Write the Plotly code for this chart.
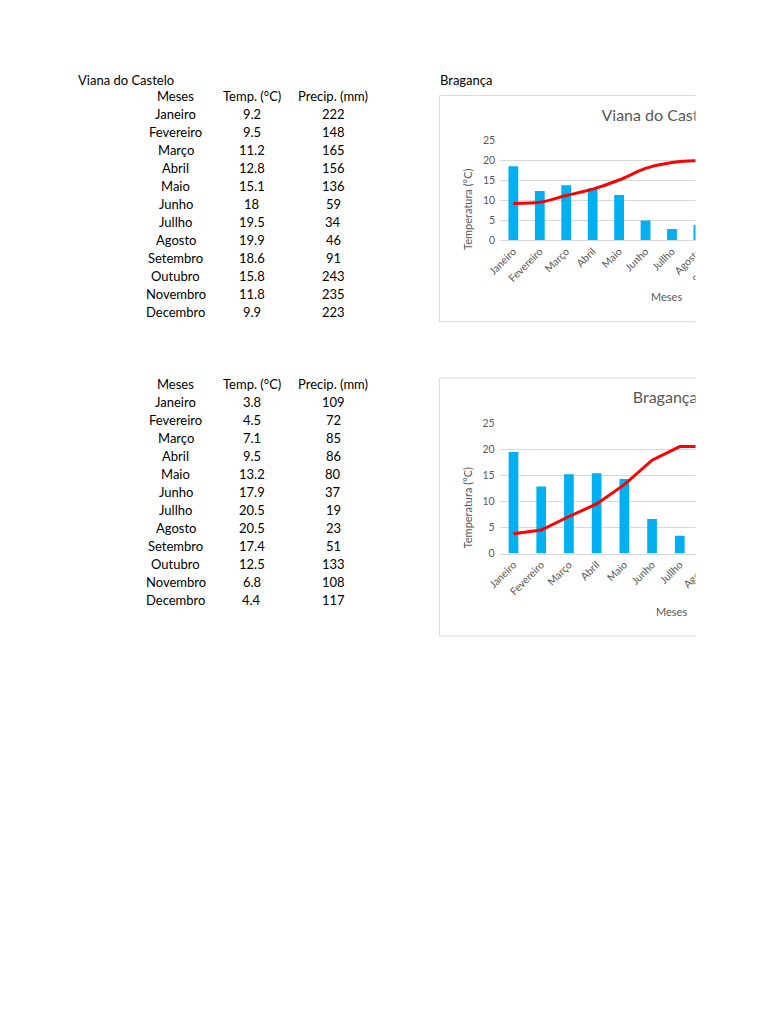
import plotly.graph_objects as go

# ---------------- data ----------------
months = ["Janeiro", "Fevereiro", "Março", "Abril", "Maio", "Junho",
          "Jullho", "Agosto", "Setembro", "Outubro", "Novembro", "Decembro"]
header = ["Meses", "Temp. (°C)", "Precip. (mm)"]

viana_name = "Viana do Castelo"
viana_temp = [9.2, 9.5, 11.2, 12.8, 15.1, 18, 19.5, 19.9, 18.6, 15.8, 11.8, 9.9]
viana_prec = [222, 148, 165, 156, 136, 59, 34, 46, 91, 243, 235, 223]

braganca_name = "Bragança"
braganca_temp = [3.8, 4.5, 7.1, 9.5, 13.2, 17.9, 20.5, 20.5, 17.4, 12.5, 6.8, 4.4]
braganca_prec = [109, 72, 85, 86, 80, 37, 19, 23, 51, 133, 108, 117]

temp_ticks = [0, 5, 10, 15, 20, 25]
y_title = "Temperatura (°C)"
x_title = "Meses"

# ---------------- helpers (page pixels -> paper) ----------------
W, H = 768, 1024
def px(x):
    return x / W
def py(y):
    return 1 - y / H

FONT = "Lato"
GRAY = "#595959"
GRID = "#D9D9D9"
BLUE = "#00B0F0"
RED = "#FF0000"

fig = go.Figure()

# chart 1 : Viana do Castelo
fig.add_trace(go.Bar(x=months, y=viana_prec, xaxis="x", yaxis="y",
                     marker=dict(color=BLUE, line=dict(width=0)), width=0.37,
                     showlegend=False, hoverinfo="skip"))
fig.add_trace(go.Scatter(x=months, y=viana_temp, xaxis="x", yaxis="y2",
                         mode="lines", line=dict(color=RED, width=3, shape="spline", smoothing=0.8),
                         showlegend=False, hoverinfo="skip"))

# chart 2 : Bragança
fig.add_trace(go.Bar(x=months, y=braganca_prec, xaxis="x2", yaxis="y3",
                     marker=dict(color=BLUE, line=dict(width=0)), width=0.35,
                     showlegend=False, hoverinfo="skip"))
fig.add_trace(go.Scatter(x=months, y=braganca_temp, xaxis="x2", yaxis="y4",
                         mode="lines", line=dict(color=RED, width=3),
                         showlegend=False, hoverinfo="skip"))

# chart titles (text in a page-pixel subplot so the page edge mask clips them)
fig.add_trace(go.Scatter(x=[601, 633], y=[112, 398], mode="text",
                         text=[viana_name, braganca_name], textposition="middle right",
                         textfont=dict(family=FONT, size=16, color=GRAY),
                         xaxis="x3", yaxis="y5", cliponaxis=False,
                         showlegend=False, hoverinfo="skip"))

tickfont = dict(family=FONT, size=10.5, color=GRAY)

# chart geometry (page pixels)
c1_left, c1_step, c1_y0, c1_y25 = 497.5, 27.0, 237, 136
c2_left, c2_step, c2_y0, c2_y25 = 497.0, 28.3, 554, 422

def xax(left, step, anchor):
    return dict(domain=[px(left), 1], range=[-0.5, -0.5 + (W - left) / step],
                type="category", anchor=anchor, tickangle=-45, tickfont=tickfont,
                showgrid=False, showline=True, linecolor=GRID, linewidth=1,
                ticks="", zeroline=False, fixedrange=True)

def yax_temp(y0, y25, overlay, anchor):
    return dict(domain=[py(y0), py(y25)], range=[0, 25.02], overlaying=overlay, anchor=anchor,
                side="left", tickvals=temp_ticks, tickfont=tickfont, showgrid=True,
                gridcolor=GRID, gridwidth=1, zeroline=False, showline=False, ticks="",
                ticklabelstandoff=4)

def yax_prec(y0, y25, top, anchor):
    return dict(domain=[py(y0), py(y25)], range=[0, top], anchor=anchor,
                visible=False, showgrid=False, zeroline=False)

fig.update_layout(
    width=W, height=H, autosize=False,
    margin=dict(l=0, r=0, t=0, b=0, pad=0),
    paper_bgcolor="white", plot_bgcolor="rgba(0,0,0,0)",
    font=dict(family=FONT, color="black"),
    xaxis=xax(c1_left, c1_step, "y"),
    yaxis=yax_prec(c1_y0, c1_y25, 300, "x"),
    yaxis2=yax_temp(c1_y0, c1_y25, "y", "x"),
    xaxis2=xax(c2_left, c2_step, "y3"),
    yaxis3=yax_prec(c2_y0, c2_y25, 140, "x2"),
    yaxis4=yax_temp(c2_y0, c2_y25, "y3", "x2"),
    xaxis3=dict(domain=[0, 1], range=[0, W], visible=False, anchor="y5", fixedrange=True),
    yaxis5=dict(domain=[0, 1], range=[H, 0], visible=False, anchor="x3", fixedrange=True),
)

shapes = [
    dict(type="rect", xref="paper", yref="paper", x0=px(435.5), x1=1.0, y0=py(90.5), y1=py(319.5),
         line=dict(color=GRID, width=1), fillcolor="rgba(0,0,0,0)", layer="below"),
    dict(type="rect", xref="paper", yref="paper", x0=px(435.5), x1=1.0, y0=py(376.5), y1=py(637.5),
         line=dict(color=GRID, width=1), fillcolor="rgba(0,0,0,0)", layer="below"),
    # page edge: everything right of it is not printed
    dict(type="rect", xref="paper", yref="paper", x0=px(697), x1=1.01, y0=-0.01, y1=1.01,
         line=dict(width=0), fillcolor="white", layer="above"),
]
fig.update_layout(shapes=shapes)

ann = []
def txt(x, y, s, anchor="center", size=13, color="black", angle=0):
    ann.append(dict(x=px(x), y=py(y), xref="paper", yref="paper", text=s, showarrow=False,
                    xanchor=anchor, yanchor="middle", textangle=angle,
                    font=dict(family=FONT, size=size, color=color)))

def fmt(v):
    return f"{v:g}"

txt(64, 75, viana_name, anchor="left")
txt(434, 75, braganca_name, anchor="left")

col_x = [166, 244, 327]
def table(y_header, step, temps, precs):
    for cx, h in zip(col_x, header):
        txt(cx, y_header, h)
    for i, m in enumerate(months):
        yy = y_header + step * (i + 1)
        txt(col_x[0], yy, m)
        txt(col_x[1], yy, fmt(temps[i]))
        txt(col_x[2], yy, fmt(precs[i]))

table(91, 18.25, viana_temp, viana_prec)
table(382, 18.27, braganca_temp, braganca_prec)

# axis titles
txt(464, 206, y_title, size=11, color=GRAY, angle=-90)
txt(464, 508, y_title, size=11, color=GRAY, angle=-90)
txt(667, 294, x_title, size=11, color=GRAY)
txt(672, 613, x_title, size=11, color=GRAY)

fig.update_layout(annotations=ann)

fig.write_html("out.html", config={"displayModeBar": False, "staticPlot": True},
               post_script="document.body.style.margin='0';")
